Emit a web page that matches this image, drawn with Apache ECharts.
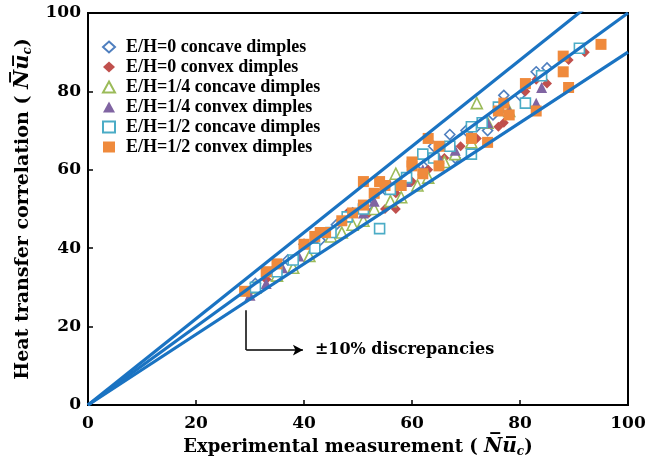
<!DOCTYPE html>
<html>
<head>
<meta charset="utf-8">
<script src="https://cdn.jsdelivr.net/npm/echarts@6/dist/echarts.min.js"></script>
<style>html,body{margin:0;padding:0;background:#fff;}#c{width:654px;height:467px;}</style>
</head>
<body>
<div id="c"></div>
<script>
// ---- data (x = experimental, y = correlation) ----
var seriesNames = [
  'E/H=0 concave dimples',
  'E/H=0 convex dimples',
  'E/H=1/4 concave dimples',
  'E/H=1/4 convex dimples',
  'E/H=1/2 concave dimples',
  'E/H=1/2 convex dimples'
];
var eh0Concave = [[31,31],[34,33],[37,37],[40,41],[43,42],[46,46],[49,49],[52,51],[55,55],[58,57],[62,61],[64,66],[67,69],[68,63],[70,70],[72,71],[74,70],[75,74],[77,79],[80,79],[83,85],[85,86]];
var eh0Convex = [[30,29],[33,32],[38,37],[42,41],[45,44],[48,49],[52,49],[55,50],[57,50],[57,54],[60,57],[63,60],[66,63],[69,66],[72,68],[76,71],[77,72],[81,80],[83,83],[85,82],[89,88],[92,90]];
var eh14Concave = [[31,30],[35,33],[38,35],[41,38],[45,43],[49,46],[51,47],[53,50],[56,52],[58,53],[61,56],[63,58],[66,62],[68,64],[71,67],[72,77],[74,72],[78,75],[47,44],[57,59]];
var eh14Convex = [[30,28],[33,31],[36,35],[39,38],[42,41],[45,44],[48,48],[51,49],[53,52],[56,56],[59,57],[62,60],[65,63],[68,65],[71,69],[74,72],[78,75],[81,77],[83,77],[84,81]];
var eh12Concave = [[31,30],[35,34],[38,37],[42,40],[45,44],[48,48],[51,50],[54,45],[56,55],[59,58],[62,64],[64,63],[67,66],[71,64],[71,71],[73,72],[76,76],[81,77],[84,84],[91,91]];
var eh12Convex = [[29,29],[33,34],[35,36],[40,41],[42,43],[43,44],[44,44],[47,47],[49,49],[51,51],[51,57],[53,54],[54,57],[55,56],[58,56],[60,61],[60,62],[62,59],[63,68],[65,66],[65,61],[71,68],[74,67],[76,75],[77,77],[78,74],[81,82],[83,75],[88,85],[88,89],[89,81],[95,92]];
var refLines = [
  [[0,0],[100,110]],
  [[0,0],[100,100]],
  [[0,0],[100,90]]
];
var bracket = [[29.3,24.2],[29.3,14],[39.8,14]];
var noteText = '\u00b110% discrepancies';

var colors = ['#4f7fbf','#c0504d','#9bbb59','#8064a2','#4bacc6','#ef8a3c'];
var symbols = ['diamond','diamond','triangle','triangle','rect','rect'];
var hollow = [true,false,true,false,true,false];
var dataSets = [eh0Concave, eh0Convex, eh14Concave, eh14Convex, eh12Concave, eh12Convex];
var sizes = [10,10,11,11,10,11];

var serif = '"DejaVu Serif","Liberation Serif",serif';
var times = '"Liberation Serif","DejaVu Serif",serif';
var series = [];
for (var i=0;i<6;i++){
  series.push({
    name: seriesNames[i], type:'scatter', data: dataSets[i],
    symbol: symbols[i], symbolSize: sizes[i], z: 3,
    itemStyle: hollow[i] ? {color:'#fff', borderColor: colors[i], borderWidth: 1.6, opacity: 1}
                         : {color: colors[i], borderWidth: 0, opacity: 1}
  });
}
refLines.forEach(function(d){
  series.push({type:'line', data:d, symbol:'none', silent:true, z:4, clip:true,
    lineStyle:{color:'#1a73c2', width:3.2}});
});
series.push({
  type:'line', data:[], symbol:'none', silent:true,
  markLine:{
    silent:true, animation:false,
    lineStyle:{color:'#000', width:1.5, type:'solid'},
    symbolSize:[8,10],
    data:[
      [{coord:bracket[0], symbol:'none'},{coord:bracket[1], symbol:'none', label:{show:false}}],
      [{coord:bracket[1], symbol:'none'},{coord:bracket[2], symbol:'arrow',
        label:{show:true, position:'end', formatter: noteText, distance:12,
          fontFamily: serif, fontWeight:'bold', fontSize:16, color:'#000'}}]
    ]
  }
});

function makeRich(sz){
  return {
    t:{fontFamily:serif, fontWeight:'bold', fontSize:sz, color:'#000'},
    nu:{fontFamily:serif, fontWeight:'bold', fontStyle:'italic', fontSize:sz+2, color:'#000'},
    sub:{fontFamily:serif, fontWeight:'bold', fontStyle:'italic', fontSize:12, color:'#000', verticalAlign:'bottom', padding:[10,0,0,0]}
  };
}
var nuTxt = '{t|( }{nu|N\u0305u\u0305}{sub|c}{t|)}';

var chart = echarts.init(document.getElementById('c'));
chart.setOption({
  animation:false,
  grid:{left:88, right:26, top:13, bottom:62, show:true, borderColor:'#000', borderWidth:2, backgroundColor:'transparent'},
  legend:{
    orient:'vertical', left:97, top:32, itemWidth:12, itemHeight:11, itemGap:0,
    data: seriesNames,
    textStyle:{fontFamily:times, fontWeight:'bold', fontSize:18, lineHeight:20, color:'#000', padding:[0,0,0,6]}
  },
  xAxis:{
    type:'value', min:0, max:100, interval:20,
    name:'{t|Experimental measurement }' + nuTxt, nameLocation:'middle', nameGap:24,
    nameTextStyle:{rich:makeRich(18)},
    axisLine:{lineStyle:{color:'#000', width:2}},
    axisTick:{inside:true, length:5, lineStyle:{color:'#000', width:1.5}},
    axisLabel:{fontFamily:serif, fontWeight:'bold', fontSize:17, color:'#000', margin:10},
    splitLine:{show:false}
  },
  yAxis:{
    type:'value', min:0, max:100, interval:20,
    name:'{t|Heat transfer correlation }' + nuTxt, nameLocation:'middle', nameGap:54,
    nameTextStyle:{rich:makeRich(19)},
    axisLine:{lineStyle:{color:'#000', width:2}},
    axisTick:{inside:true, length:5, lineStyle:{color:'#000', width:1.5}},
    axisLabel:{fontFamily:serif, fontWeight:'bold', fontSize:17, color:'#000', margin:7},
    splitLine:{show:false}
  },
  series: series
});
</script>
</body>
</html>
